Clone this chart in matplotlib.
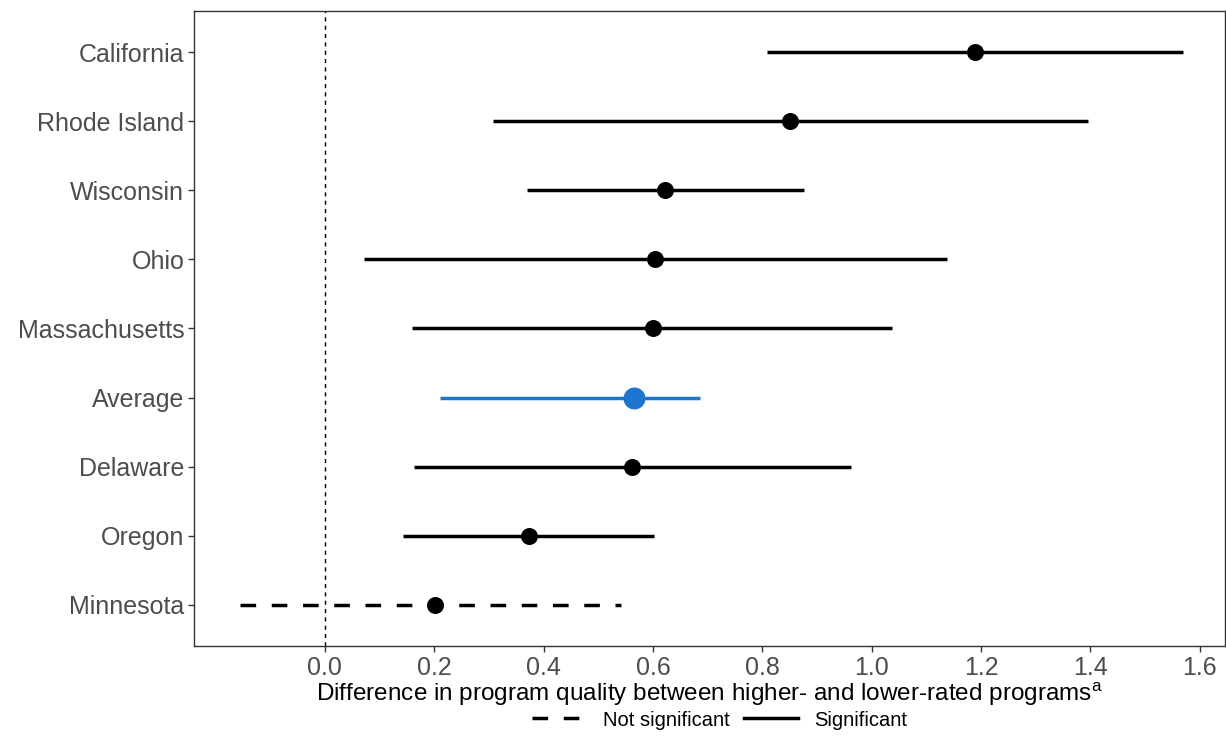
import matplotlib.pyplot as plt
import numpy as np

plt.rcParams['font.family'] = ['Liberation Sans', 'DejaVu Sans']

# 下から上の順
states = ["Minnesota", "Oregon", "Delaware", "Average", "Massachusetts",
          "Ohio", "Wisconsin", "Rhode Island", "California"]
est = [0.201, 0.373, 0.561, 0.565, 0.600, 0.603, 0.622, 0.850, 1.189]
lo = [-0.154, 0.143, 0.163, 0.210, 0.159, 0.071, 0.369, 0.307, 0.808]
hi = [0.541, 0.602, 0.962, 0.686, 1.037, 1.137, 0.876, 1.395, 1.569]
signif = [False, True, True, True, True, True, True, True, True]

fig = plt.figure(figsize=(12.26, 7.54), dpi=100)
ax = fig.add_axes([194 / 1226, 1 - 646 / 754, 1031 / 1226, 635 / 754])

ax.axvline(0, color="black", lw=1, ls=(0, (3, 3)), zorder=1)

y = np.arange(1, len(states) + 1)
for i, s in enumerate(states):
    avg = s == "Average"
    color = "#1C75CF" if avg else "black"
    ls = "-" if signif[i] else (0, (4.5, 4.5))
    ax.plot([lo[i], hi[i]], [y[i], y[i]], color=color, lw=2.5, ls=ls,
            solid_capstyle="butt", zorder=2)
    if avg:
        ax.scatter(est[i], y[i], s=250, color=color, zorder=3, linewidths=0)
    else:
        ax.scatter(est[i], y[i], s=150, color=color, zorder=3, linewidths=0)

ax.set_yticks(y)
ax.set_yticklabels(states)
ax.set_ylim(0.4, 9.6)
ax.set_xlim(-0.239, 1.646)
ax.set_xticks(np.arange(0, 1.61, 0.2))
ax.set_xticklabels([f"{v:.1f}" for v in np.arange(0, 1.61, 0.2)])

ax.tick_params(axis="both", colors="#333333", labelcolor="#4D4D4D",
               labelsize=18, length=4, width=1, pad=3)
for sp in ax.spines.values():
    sp.set_color("#333333")
    sp.set_linewidth(1)

ax.set_xlabel("Difference in program quality between higher- and lower-rated programs$^{\\mathregular{a}}$",
              fontsize=17.5, color="black", labelpad=0)

# 凡例
h1, = ax.plot([], [], color="black", lw=2.5, ls=(0, (4.5, 4.5)))
h2, = ax.plot([], [], color="black", lw=2.5)
fig.legend([h1, h2], ["Not significant", "Significant"], loc="center",
           bbox_to_anchor=(0.587, 1 - 720 / 754), ncol=2, frameon=False,
           fontsize=14.5, handlelength=2.7, columnspacing=0.7, handletextpad=0.8,
           borderpad=0.1)

fig.savefig("out.png", dpi=100)
